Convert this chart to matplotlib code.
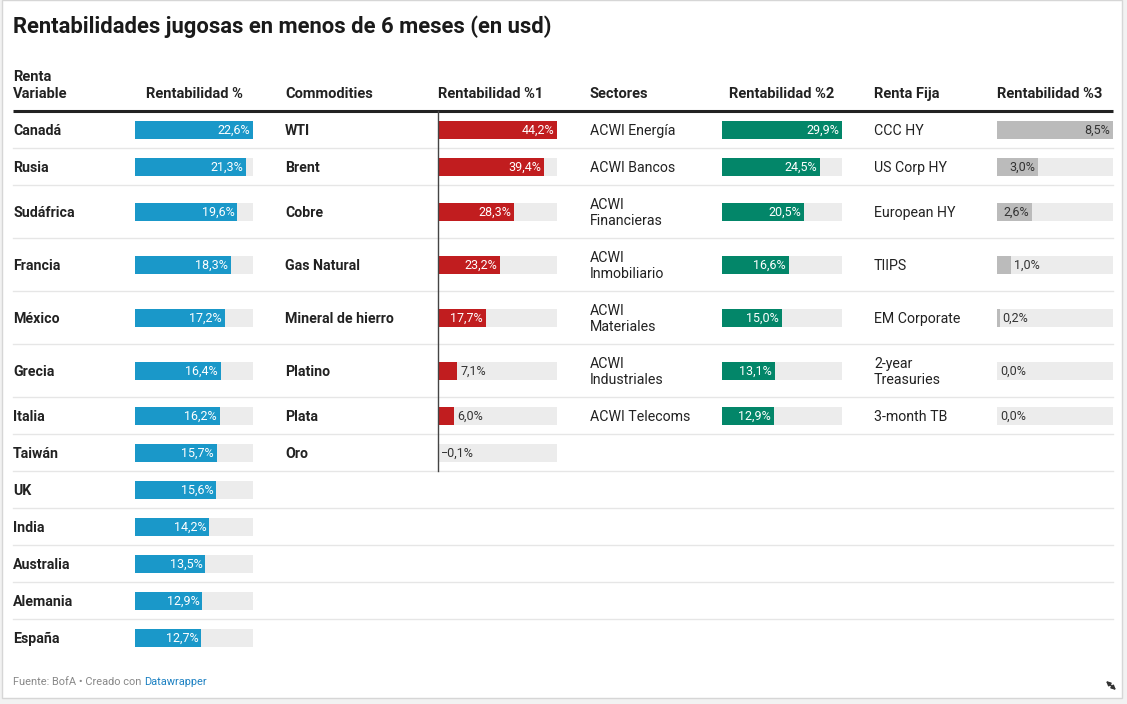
import matplotlib.pyplot as plt
from matplotlib.patches import Rectangle

plt.rcParams['font.family'] = ['Roboto', 'DejaVu Sans']

# data
title = "Rentabilidades jugosas en menos de 6 meses (en usd)"
headers = ["Renta\nVariable", "Rentabilidad %", "Commodities", "Rentabilidad %1",
           "Sectores", "Rentabilidad %2", "Renta Fija", "Rentabilidad %3"]

rv_names = ["Canadá", "Rusia", "Sudáfrica", "Francia", "México", "Grecia", "Italia",
            "Taiwán", "UK", "India", "Australia", "Alemania", "España"]
rv_vals = [22.6, 21.3, 19.6, 18.3, 17.2, 16.4, 16.2, 15.7, 15.6, 14.2, 13.5, 12.9, 12.7]

com_names = ["WTI", "Brent", "Cobre", "Gas Natural", "Mineral de hierro", "Platino", "Plata", "Oro"]
com_vals = [44.2, 39.4, 28.3, 23.2, 17.7, 7.1, 6.0, -0.1]

sec_names = ["ACWI Energía", "ACWI Bancos", "ACWI\nFinancieras", "ACWI\nInmobiliario",
             "ACWI\nMateriales", "ACWI\nIndustriales", "ACWI Telecoms"]
sec_vals = [29.9, 24.5, 20.5, 16.6, 15.0, 13.1, 12.9]

rf_names = ["CCC HY", "US Corp HY", "European HY", "TIIPS", "EM Corporate",
            "2-year\nTreasuries", "3-month TB"]
rf_vals = [8.5, 3.0, 2.6, 1.0, 0.2, 0.0, 0.0]

source = "Fuente: BofA • Creado con "
credit = "Datawrapper"

# layout: (names, values, name x, name bold, bar left, bar width, colour, inside label colour)
columns = [
    (rv_names, rv_vals, 13, True, 135, 118, "#1a98c9", "white"),
    (com_names, com_vals, 285, True, 438, 119, "#c11d1f", "white"),
    (sec_names, sec_vals, 590, False, 722, 120, "#038669", "white"),
    (rf_names, rf_vals, 874, False, 997, 116, "#bbbbbb", "#333333"),
]
header_x = [13, 194, 285, 491, 590, 782, 874, 1050]
header_ha = ["left", "center", "left", "center", "left", "center", "left", "center"]

fig = plt.figure(figsize=(11.27, 7.04), dpi=100)
fig.patch.set_facecolor("#f2f2f2")
ax = fig.add_axes([0, 0, 1, 1])
ax.set_xlim(0, 1127)
ax.set_ylim(704, 0)
ax.axis("off")
ax.add_patch(Rectangle((2, 0), 1120, 698, facecolor="white", edgecolor="#d6d6d6", lw=1))

ax.text(13, 27, title, fontsize=15.8, fontweight="bold", color="#1a1a1a", va="center")

for txt, x, ha in zip(headers, header_x, header_ha):
    ax.text(x, 98, txt, fontsize=10.5, fontweight="bold", color="#222222", ha=ha, va="baseline",
            linespacing=1.25)
ax.plot([13, 1113], [111, 111], color="#222222", lw=2.2, solid_capstyle="butt")

# row heights: taller rows where any name wraps onto two lines
n_rows = max(len(c[0]) for c in columns)
tops = []
y = 111
for i in range(n_rows):
    two = any(i < len(c[0]) and "\n" in c[0][i] for c in columns)
    h = 53 if two else 37
    tops.append((y, h))
    y += h

for i, (top, h) in enumerate(tops):
    if i < n_rows - 1:
        ax.plot([13, 1113], [top + h, top + h], color="#e6e6e6", lw=1)

bar_h = 18
for names, vals, nx, bold, bx, bw, col, incol in columns:
    vmax = max(vals)
    for i, (name, v) in enumerate(zip(names, vals)):
        top, h = tops[i]
        cy = top + h / 2
        ax.text(nx, cy + 1.5, name, fontsize=10.2, fontweight="bold" if bold else "normal",
                color="#222222", va="center", ha="left", linespacing=1.15)
        ax.barh(cy, bw, left=bx, height=bar_h, color="#ececec", zorder=2)
        w = v / vmax * bw
        ax.barh(cy, w, left=bx, height=bar_h, color=col, zorder=3)
        lab = f"{abs(v):.1f}".replace(".", ",") + "%"
        if v < 0:
            lab = "\u2212" + lab
        if w > 32:
            ax.text(bx + w - 3, cy + 0.8, lab, fontsize=9, color=incol, ha="right", va="center",
                    zorder=4)
        else:
            ax.text(bx + max(w, 0) + 3, cy + 0.8, lab, fontsize=9, color="#333333", ha="left",
                    va="center", zorder=4)

# zero line for commodities
com_bottom = tops[len(com_names) - 1][0] + tops[len(com_names) - 1][1]
ax.plot([438, 438], [111, com_bottom], color="#444444", lw=1, zorder=5)

t = ax.text(13, 682, source, fontsize=7.9, color="#888888", va="center")
fig.canvas.draw()
bb = t.get_window_extent()
x_end = ax.transData.inverted().transform((bb.x1, bb.y0))[0]
ax.text(x_end, 682, credit, fontsize=7.9, color="#1d81c2", va="center")

# resize handle (two-headed diagonal arrow)
ax.annotate("", xy=(1116, 690), xytext=(1106, 681),
            arrowprops=dict(arrowstyle="<|-|>", color="#333333", lw=1.2,
                            mutation_scale=6, shrinkA=0, shrinkB=0))

fig.savefig("out.png", dpi=100)
